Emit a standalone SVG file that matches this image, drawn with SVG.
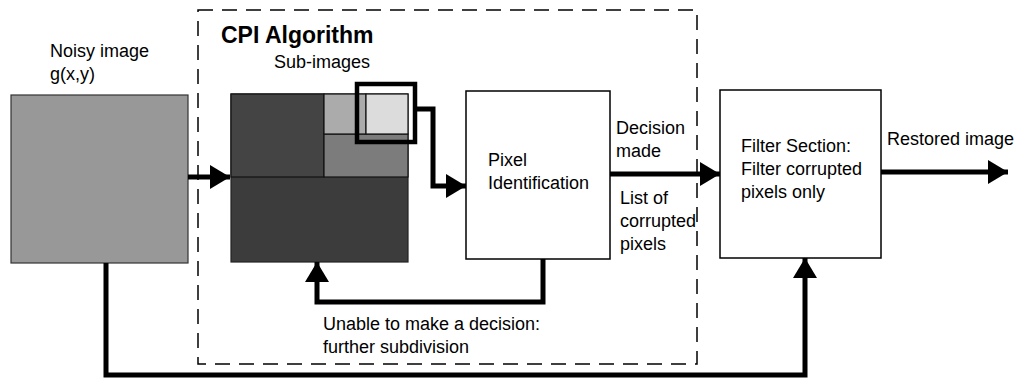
<svg xmlns="http://www.w3.org/2000/svg" width="1021" height="379" viewBox="0 0 1021 379">
<defs>
<style>
text{font-family:"Liberation Sans",Arial,sans-serif;fill:#000}
.lbl{font-size:18px}
.box{fill:#fff;stroke:#000;stroke-width:1.5}
.conn{fill:none;stroke:#000;stroke-width:5}
</style>
<marker id="ah" markerUnits="userSpaceOnUse" markerWidth="22" markerHeight="24" refX="20" refY="12" orient="auto">
<path d="M0,0 L20,12 L0,24 Z" fill="#000"/>
</marker>
</defs>
<rect width="1021" height="379" fill="#fff"/>
<g id="cpi-boundary">
<rect x="198" y="10" width="499" height="354" fill="none" stroke="#000" stroke-width="1.5" stroke-dasharray="15,9"/>
<text x="221" y="43" style="font-size:23px;font-weight:bold">CPI Algorithm</text>
</g>
<g id="noisy-image">
<text x="50" y="57" class="lbl">Noisy image</text>
<text x="50" y="80" class="lbl">g(x,y)</text>
<rect x="11" y="95" width="177" height="168" fill="#989898" stroke="#333" stroke-width="1.2"/>
</g>
<g id="sub-images">
<text x="274" y="68" class="lbl">Sub-images</text>
<rect x="231" y="94" width="177" height="168" fill="#3c3c3c" stroke="#222" stroke-width="1.2"/>
<rect x="231" y="94" width="93" height="83" fill="#444" stroke="#111" stroke-width="1.2"/>
<rect x="324" y="134" width="84" height="43" fill="#7c7c7c" stroke="#111" stroke-width="1.2"/>
<rect x="324" y="94" width="42" height="40" fill="#ababab" stroke="#111" stroke-width="1.2"/>
<rect x="366" y="94" width="42" height="40" fill="#dcdcdc" stroke="#111" stroke-width="1.2"/>
<rect x="357" y="84" width="58" height="58" fill="none" stroke="#000" stroke-width="4.5"/>
</g>
<g id="pixel-identification">
<rect x="466" y="91" width="144" height="168" class="box"/>
<text x="488" y="166" class="lbl">Pixel</text>
<text x="488" y="189" class="lbl">Identification</text>
</g>
<g id="filter-section">
<rect x="720" y="90" width="161" height="168" class="box"/>
<text x="741" y="152" class="lbl">Filter Section:</text>
<text x="741" y="175" class="lbl">Filter corrupted</text>
<text x="741" y="198" class="lbl">pixels only</text>
</g>
<g id="connectors">
<path class="conn" d="M188,177 L230,177" marker-end="url(#ah)"/>
<path class="conn" d="M417,109 L433,109 L433,186 L466,186" marker-end="url(#ah)"/>
<path class="conn" d="M610,174 L720,174" marker-end="url(#ah)"/>
<path class="conn" d="M881,172 L1008,172" marker-end="url(#ah)"/>
<path class="conn" d="M543,259 L543,302 L317,302 L317,262" marker-end="url(#ah)"/>
<path class="conn" d="M106,263 L106,375 L805,375 L805,258" marker-end="url(#ah)"/>
</g>
<g id="connector-labels">
<text x="616" y="134" class="lbl">Decision</text>
<text x="616" y="157" class="lbl">made</text>
<text x="620" y="204" class="lbl">List of</text>
<text x="620" y="227" class="lbl">corrupted</text>
<text x="620" y="250" class="lbl">pixels</text>
<text x="887" y="145" class="lbl">Restored image</text>
<text x="323" y="330" class="lbl">Unable to make a decision:</text>
<text x="323" y="353" class="lbl">further subdivision</text>
</g>
</svg>
